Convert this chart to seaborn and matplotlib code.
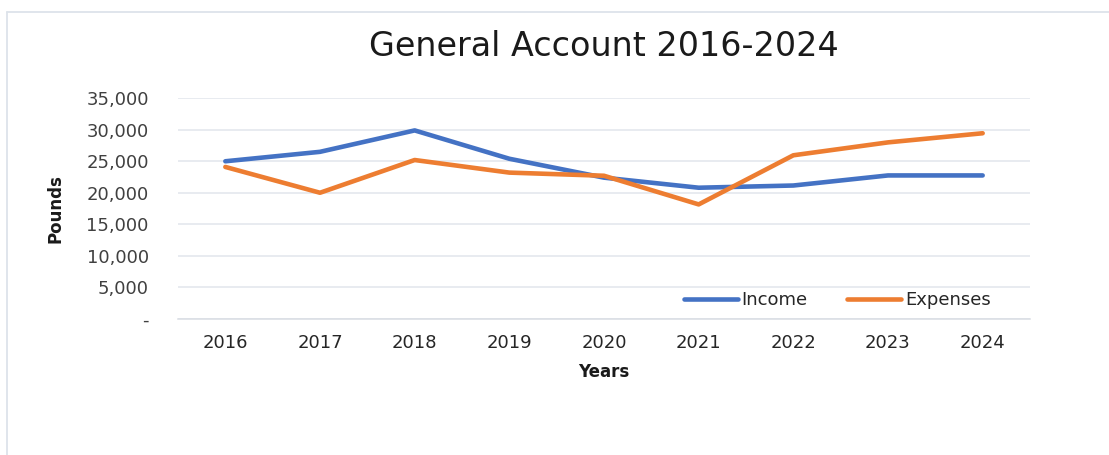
import matplotlib
matplotlib.use("Agg")
import matplotlib.pyplot as plt
import matplotlib.ticker as mticker
from matplotlib.lines import Line2D
import seaborn as sns
import pandas as pd

years = ["2016", "2017", "2018", "2019", "2020", "2021", "2022", "2023", "2024"]
income = [25000, 26500, 29900, 25400, 22400, 20800, 21150, 22750, 22750]
expenses = [24100, 20000, 25200, 23200, 22700, 18150, 25950, 28000, 29450]
series_names = ["Income", "Expenses"]
colors = ["#4472C4", "#ED7D31"]

df = pd.DataFrame({
    "Year": years * 2,
    "Value": income + expenses,
    "Series": [series_names[0]] * len(years) + [series_names[1]] * len(years),
})

sns.set_theme(style="white")
plt.rcParams["font.family"] = ["DejaVu Sans"]

fig = plt.figure(figsize=(11.09, 4.55), dpi=100)
ax = fig.add_axes([178 / 1109, 1 - 318.7 / 455, (1030 - 178) / 1109, (318.7 - 98.3) / 455])

sns.lineplot(data=df, x="Year", y="Value", hue="Series", palette=colors,
             linewidth=3.3, ax=ax, sort=False)

ax.set_xlim(-0.5, len(years) - 0.5)
ax.set_ylim(0, 35000)
ax.yaxis.set_major_locator(mticker.MultipleLocator(5000))
ax.yaxis.set_major_formatter(mticker.FuncFormatter(lambda v, p: "-" if v == 0 else f"{int(v):,}"))
ax.grid(axis="y", color="#e2e6ec", linewidth=1.1)
ax.set_axisbelow(True)
for s in ["top", "right", "left"]:
    ax.spines[s].set_visible(False)
ax.spines["bottom"].set_color("#d9dde3")
ax.spines["bottom"].set_linewidth(1.1)

ax.set_xticks(range(len(years)))
ax.set_xticklabels(years)
ax.set_xticks([i - 0.5 for i in range(len(years) + 1)], minor=True)
ax.tick_params(axis="x", which="major", length=0, pad=11, labelsize=13, labelcolor="#262626")
ax.tick_params(axis="x", which="minor", length=6, width=1.1, color="#d9dde3", direction="out")
ax.tick_params(axis="y", length=0, pad=21, labelsize=13, labelcolor="#404040")

ax.set_xlabel("Years", fontsize=12, fontweight="bold", color="#1a1a1a", labelpad=8)
ax.set_ylabel("Pounds", fontsize=12, fontweight="bold", color="#1a1a1a", labelpad=16)

fig.text(604 / 1109, 1 - 46 / 455, "General Account 2016-2024", ha="center", va="center",
         fontsize=24, color="#1a1a1a")

leg = ax.legend(loc="lower right", bbox_to_anchor=(0.973, -0.03), ncol=2, frameon=False,
                fontsize=13, handlelength=3.0, columnspacing=2.2, handletextpad=0.2,
                title=None)
for t in leg.get_texts():
    t.set_color("#262626")

border = "#dde3ea"
fig.add_artist(Line2D([7 / 1109, 7 / 1109], [0, 1 - 12.3 / 455], color=border, lw=1.3,
                      transform=fig.transFigure))
fig.add_artist(Line2D([7 / 1109, 1], [1 - 12.3 / 455, 1 - 12.3 / 455], color=border, lw=1.3,
                      transform=fig.transFigure))

fig.savefig("out.png", dpi=100)
